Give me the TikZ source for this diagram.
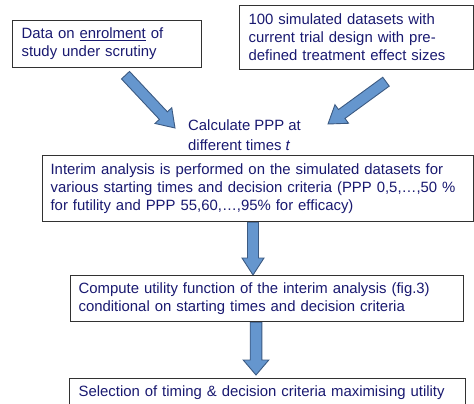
\documentclass[tikz,border=0pt]{standalone}
\usepackage{fontspec}
\setmainfont{Liberation Sans}
\usetikzlibrary{calc,backgrounds}
\definecolor{txtc}{RGB}{25,25,112}
\definecolor{arrfill}{RGB}{101,150,206}
\definecolor{arrline}{RGB}{60,90,130}
\definecolor{boxline}{RGB}{50,50,50}
\tikzset{
  box/.style={draw=boxline, line width=1.2pt, anchor=north west, align=left,
    inner ysep=0pt, text=txtc, font=\fontsize{14.9}{18}\selectfont},
  plain/.style={text=txtc, anchor=north west, align=left, inner sep=0pt,
    font=\fontsize{14.9}{20}\selectfont},
  barrow/.style={fill=arrfill, draw=arrline, line width=0.9pt, line join=miter}
}
\newcommand\myblockarrow[5]{%
  \path ($(#2)!#5!(#1)$) coordinate (bah);
  \draw[barrow] ($(#1)!#3!90:(#2)$) -- ($(bah)!#3!90:(#2)$) -- ($(bah)!#4!90:(#2)$) -- (#2)
    -- ($(bah)!#4!-90:(#2)$) -- ($(bah)!#3!-90:(#2)$) -- ($(#1)!#3!-90:(#2)$) -- cycle;}
\begin{document}
\begin{tikzpicture}[x=1pt,y=-1pt]
\useasboundingbox (0,0) rectangle (474,404);
\node[box, minimum width=189pt, minimum height=47pt, text width=171pt, inner xsep=9pt] (data) at (12,20)
  {Data on \underline{enrolment} of\\study under scrutiny};
\node[box, minimum width=234pt, minimum height=64pt, text width=216pt, inner xsep=9pt] (sim) at (239,5)
  {100 simulated datasets with\\current trial design with pre-\\defined treatment effect sizes};
\node[plain] (calc) at (188,120) {Calculate PPP at\\different times \textit{t}};
\node[box, minimum width=431pt, minimum height=66pt, text width=415pt, inner xsep=8pt] (interim) at (42,155)
  {Interim analysis is performed on the simulated datasets for\\\mbox{various starting times and decision criteria (PPP 0,5,\dots,50 \%}\\for futility and PPP 55,60,\dots,95\% for efficacy)};
\node[box, minimum width=393pt, minimum height=46pt, text width=377pt, inner xsep=8pt] (utility) at (70,275)
  {\makebox[377pt][s]{Compute utility function of the interim analysis (fig.3)}\\conditional on starting times and decision criteria};
\node[box, minimum width=396pt, minimum height=28pt, text width=378pt, inner xsep=9pt] (select) at (69,378)
  {Selection of timing \& decision criteria maximising utility};
\coordinate (a1s) at ($(data.south west)+(113.5,7)$);
\coordinate (a1e) at ($(calc.north west)+(-13,8)$);
\coordinate (a2s) at ($(sim.south west)+(147,11.5)$);
\coordinate (a2e) at ($(calc.north west)+(140,4)$);
\coordinate (a3s) at ($(interim.south west)+(211,0)$);
\coordinate (a3e) at ($(utility.north west)+(183,0)$);
\coordinate (a4s) at ($(utility.south west)+(186,0)$);
\coordinate (a4e) at ($(select.north west)+(187,-3)$);
\begin{pgfonlayer}{background}
\myblockarrow{a1s}{a1e}{5.5pt}{11.5pt}{17pt}
\myblockarrow{a2s}{a2e}{5.5pt}{11.5pt}{17pt}
\myblockarrow{a3s}{a3e}{5.5pt}{11pt}{17pt}
\myblockarrow{a4s}{a4e}{5.8pt}{12.8pt}{15pt}
\end{pgfonlayer}
\end{tikzpicture}
\end{document}
